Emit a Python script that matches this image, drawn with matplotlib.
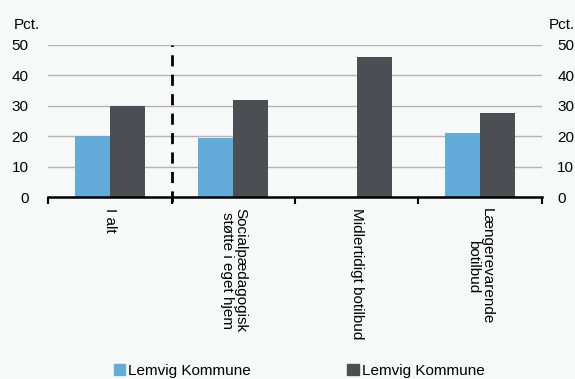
import numpy as np
import matplotlib.pyplot as plt
from matplotlib.patches import Patch

plt.rcParams['font.family'] = ['Liberation Sans', 'DejaVu Sans']

kategorier = ["I alt", "Socialpædagogisk\nstøtte i eget hjem", "Midlertidigt botilbud",
              "Længerevarende\nbotilbud"]
serie1 = [20, 19.5, 0, 21]
serie2 = [30, 32, 46, 27.5]
navne = ["Lemvig Kommune", "Lemvig Kommune"]
farver = ["#63abd8", "#4d4e53"]
yticks = [0, 10, 20, 30, 40, 50]

bg = "#f7f8f8"
fig = plt.figure(figsize=(5.75, 3.79), dpi=100, facecolor=bg)
ax = fig.add_axes([0.0835, 0.4802, 0.8591, 0.4011])
ax.set_facecolor(bg)

x = np.arange(len(kategorier))
w = 0.283
ax.bar(x - w / 2, serie1, w, color=farver[0], zorder=3)
ax.bar(x + w / 2, serie2, w, color=farver[1], zorder=3)

ax.set_xlim(-0.5, len(kategorier) - 0.5)
ax.set_ylim(0, 50)
ax.set_yticks(yticks)
ax.yaxis.grid(True, color="#b4b4b4", linewidth=1, zorder=0)
ax.tick_params(axis="y", length=0, labelsize=11, pad=14)
for s in ["top", "left", "right"]:
    ax.spines[s].set_visible(False)
ax.spines["bottom"].set_linewidth(1.8)
ax.spines["bottom"].set_zorder(4)

# højre akse
ax2 = ax.twinx()
ax2.set_ylim(0, 50)
ax2.set_yticks(yticks)
ax2.tick_params(axis="y", length=0, labelsize=11, pad=11)
for s in ["top", "left", "right", "bottom"]:
    ax2.spines[s].set_visible(False)

ax.set_xticks(x)
ax.set_xticklabels(kategorier, rotation=270, fontsize=11, va="top", ha="center",
                   linespacing=0.95)
ax.tick_params(axis="x", length=0, pad=8)
ax.set_xticks(np.arange(-0.5, len(kategorier)), minor=True)
ax.tick_params(axis="x", which="minor", length=5, width=1.5, direction="out")

# stiplet skillelinje
ax.axvline(0.5, ymin=-0.03, ymax=1, color="black", linestyle=(0, (4, 3)),
           linewidth=2, clip_on=False, zorder=5)

fig.text(0.024, 0.935, "Pct.", fontsize=11, ha="left", va="center")
fig.text(0.955, 0.935, "Pct.", fontsize=11, ha="left", va="center")

handles = [Patch(color=farver[0]), Patch(color=farver[1])]
fig.legend(handles, navne, loc="center", bbox_to_anchor=(0.52, 0.022), ncol=2,
           frameon=False, fontsize=11, handlelength=0.75, handleheight=0.75,
           handletextpad=0.2, columnspacing=6.3, borderpad=0)

fig.savefig("out.png", dpi=100, facecolor=bg)
